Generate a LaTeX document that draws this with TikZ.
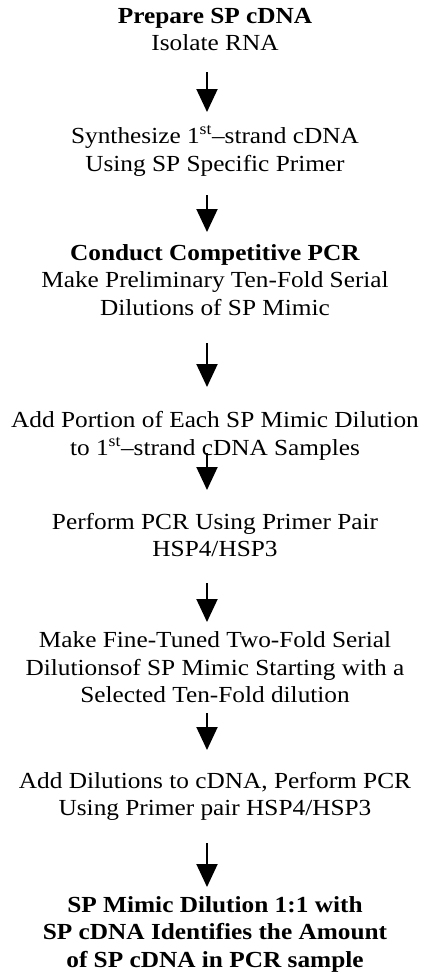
\documentclass[tikz,border=0pt]{standalone}
\usepackage{fontspec}
\setmainfont[FakeStretch=1.1]{Liberation Serif}
\usetikzlibrary{arrows.meta}
\begin{document}
\begin{tikzpicture}[x=1pt,y=1pt,
  blk/.style={align=center,inner sep=0pt,font=\fontsize{23}{27.5}\selectfont},
  arr/.style={line width=2pt,-{Triangle[width=21pt,length=23pt]}}]
\path[use as bounding box] (0,0) rectangle (424,-972);
\node[blk] (b1) at (215,-29.5) {\textbf{Prepare SP cDNA}\\Isolate RNA};
\node[blk] (b2) at (215,-151) {Synthesize 1\textsuperscript{st}–strand cDNA\\Using SP Specific Primer};
\node[blk] (b3) at (215,-280) {\textbf{Conduct Competitive PCR}\\Make Preliminary Ten-Fold Serial\\Dilutions of SP Mimic};
\node[blk] (b4) at (215,-436) {Add Portion of Each SP Mimic Dilution\\to 1\textsuperscript{st}–strand cDNA Samples};
\node[blk] (b5) at (215,-535) {Perform PCR Using Primer Pair\\HSP4/HSP3};
\node[blk] (b6) at (215,-667.5) {Make Fine-Tuned Two-Fold Serial\\Dilutionsof SP Mimic Starting with a\\Selected Ten-Fold dilution};
\node[blk] (b7) at (215,-796.5) {Add Dilutions to cDNA, Perform PCR\\Using Primer pair HSP4/HSP3};
\node[blk,font=\fontsize{23}{27.5}\selectfont\bfseries] (b8) at (215,-934) {SP Mimic Dilution 1:1 with\\SP cDNA Identifies the Amount\\of SP cDNA in PCR sample};
\coordinate (a1s) at (207,-72);  \coordinate (a1e) at (207,-112);
\coordinate (a2s) at (207,-195); \coordinate (a2e) at (207,-232);
\coordinate (a3s) at (207,-343); \coordinate (a3e) at (207,-387);
\coordinate (a4s) at (207,-453); \coordinate (a4e) at (207,-490);
\coordinate (a5s) at (207,-583); \coordinate (a5e) at (207,-622);
\coordinate (a6s) at (207,-713); \coordinate (a6e) at (207,-750);
\coordinate (a7s) at (207,-843); \coordinate (a7e) at (207,-887);
\foreach \i in {1,...,7} \draw[arr] (a\i s) -- (a\i e);
\end{tikzpicture}
\end{document}
